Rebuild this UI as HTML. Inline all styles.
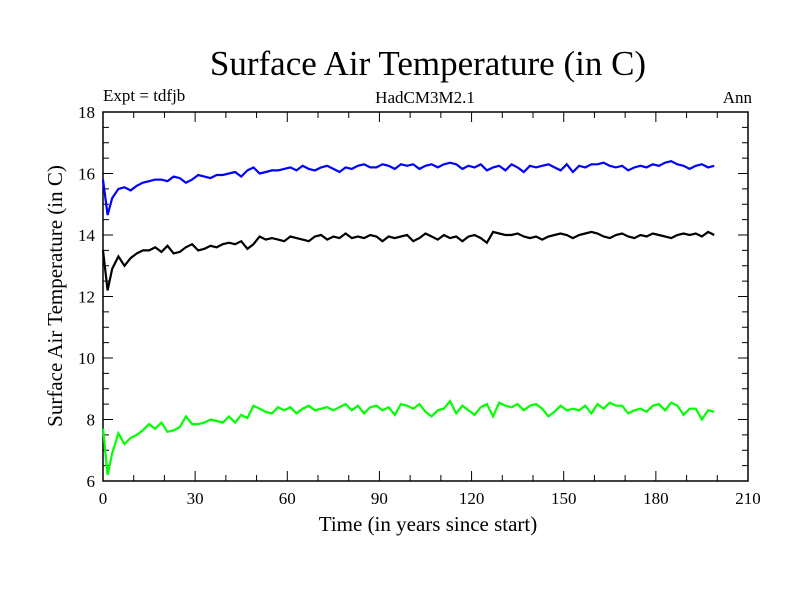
<!DOCTYPE html>
<html><head><meta charset="utf-8"><style>
body{margin:0;background:#fff}
svg text{font-family:"Liberation Serif",serif;fill:#000}
</style></head><body>
<svg width="800" height="600">
<rect width="800" height="600" fill="#fff"/>
<text x="428" y="75" font-size="35" text-anchor="middle">Surface Air Temperature (in C)</text>
<text x="103" y="101" font-size="17">Expt = tdfjb</text>
<text x="425" y="103" font-size="17" text-anchor="middle">HadCM3M2.1</text>
<text x="752" y="103" font-size="17" text-anchor="end">Ann</text>
<text x="428" y="531" font-size="21" text-anchor="middle">Time (in years since start)</text>
<text transform="translate(62,296) rotate(-90)" font-size="21" text-anchor="middle">Surface Air Temperature (in C)</text>
<g id="axes"></g>
<g id="series"></g>
</svg>
<script>
const blue=[15.8,14.65,15.2,15.5,15.55,15.45,15.6,15.7,15.75,15.8,15.8,15.75,15.9,15.85,15.7,15.8,15.95,15.9,15.85,15.95,15.95,16.0,16.05,15.9,16.1,16.2,16.0,16.05,16.1,16.1,16.15,16.2,16.1,16.25,16.15,16.1,16.2,16.25,16.15,16.05,16.2,16.15,16.25,16.3,16.2,16.2,16.3,16.25,16.15,16.3,16.25,16.3,16.15,16.25,16.3,16.2,16.3,16.35,16.3,16.15,16.25,16.2,16.3,16.1,16.2,16.25,16.1,16.3,16.2,16.05,16.25,16.2,16.25,16.3,16.2,16.1,16.3,16.05,16.25,16.2,16.3,16.3,16.35,16.25,16.2,16.25,16.1,16.2,16.25,16.2,16.3,16.25,16.35,16.4,16.3,16.25,16.15,16.25,16.3,16.2,16.25,16.4];
const black=[13.5,12.2,12.9,13.3,13.0,13.25,13.4,13.5,13.5,13.6,13.45,13.65,13.4,13.45,13.6,13.7,13.5,13.55,13.65,13.6,13.7,13.75,13.7,13.8,13.55,13.7,13.95,13.85,13.9,13.85,13.8,13.95,13.9,13.85,13.8,13.95,14.0,13.85,13.95,13.9,14.05,13.9,13.95,13.9,14.0,13.95,13.8,13.95,13.9,13.95,14.0,13.8,13.9,14.05,13.95,13.85,14.0,13.9,13.95,13.8,13.95,14.0,13.9,13.75,14.1,14.05,14.0,14.0,14.05,13.95,13.9,13.95,13.85,13.95,14.0,14.05,14.0,13.9,14.0,14.05,14.1,14.05,13.95,13.9,14.0,14.05,13.95,13.9,14.0,13.95,14.05,14.0,13.95,13.9,14.0,14.05,14.0,14.05,13.95,14.1,14.0,14.1];
const green=[7.7,6.2,6.9,7.55,7.2,7.4,7.5,7.65,7.85,7.7,7.9,7.6,7.65,7.75,8.1,7.85,7.85,7.9,8.0,7.95,7.9,8.1,7.9,8.15,8.05,8.45,8.35,8.25,8.2,8.4,8.3,8.4,8.2,8.35,8.45,8.3,8.35,8.4,8.3,8.4,8.5,8.3,8.45,8.2,8.4,8.45,8.3,8.4,8.15,8.5,8.45,8.35,8.5,8.25,8.1,8.3,8.35,8.6,8.2,8.45,8.3,8.15,8.4,8.5,8.1,8.55,8.45,8.4,8.5,8.3,8.45,8.5,8.35,8.1,8.25,8.45,8.3,8.35,8.3,8.45,8.2,8.5,8.35,8.55,8.45,8.45,8.2,8.3,8.35,8.25,8.45,8.5,8.3,8.55,8.45,8.15,8.35,8.35,8.0,8.3,8.25,8.45,8.6,8.4];
const years=[0,1.5];for(let y=3;y<=199;y+=2)years.push(y);
const xTicks=[0,30,60,90,120,150,180,210];
const yTicks=[6,8,10,12,14,16,18];
const X0=103,X1=748,Y0=481,Y1=112;
const sx=v=>X0+(v-0)/210*(X1-X0);
const sy=v=>Y0-(v-6)/12*(Y0-Y1);
const NS="http://www.w3.org/2000/svg";
const ax=document.getElementById('axes');
function mk(t,a,p){const e=document.createElementNS(NS,t);for(const k in a)e.setAttribute(k,a[k]);p.appendChild(e);return e;}
const frame=mk('rect',{x:X0,y:Y1,width:X1-X0,height:Y0-Y1,fill:'none',stroke:'#000','stroke-width':1.5},ax);


for(let v=0;v<=210;v+=10){const maj=v%30===0,L=maj?10:6,x=sx(v);
 mk('line',{x1:x,x2:x,y1:Y0,y2:Y0-L,stroke:'#000'},ax);mk('line',{x1:x,x2:x,y1:Y1,y2:Y1+L,stroke:'#000'},ax);}
for(let v=6;v<=18.001;v+=0.5){const maj=Math.abs(v-Math.round(v/2)*2)<1e-6,L=maj?10:6,y=sy(v);
 mk('line',{x1:X0,x2:X0+L,y1:y,y2:y,stroke:'#000'},ax);mk('line',{x1:X1,x2:X1-L,y1:y,y2:y,stroke:'#000'},ax);}
xTicks.forEach(v=>{const t=mk('text',{x:sx(v),y:Y0+23,'font-size':17,'text-anchor':'middle'},ax);t.textContent=v;
 
 });
yTicks.forEach(v=>{const t=mk('text',{x:X0-8,y:sy(v)+6,'font-size':17,'text-anchor':'end'},ax);t.textContent=v;
 
 });
const sg=document.getElementById('series');
[[blue,'#0000ff','blue-series-line'],[black,'#000','black-series-line'],[green,'#00ff00','green-series-line']].forEach(([d,c,n])=>{
 const pts=d.map((v,i)=>sx(years[i]).toFixed(1)+','+sy(v).toFixed(1)).join(' ');
 const p=mk('polyline',{points:pts,fill:'none',stroke:c,'stroke-width':2.2},sg);
 
 
});
</script>
</body></html>
